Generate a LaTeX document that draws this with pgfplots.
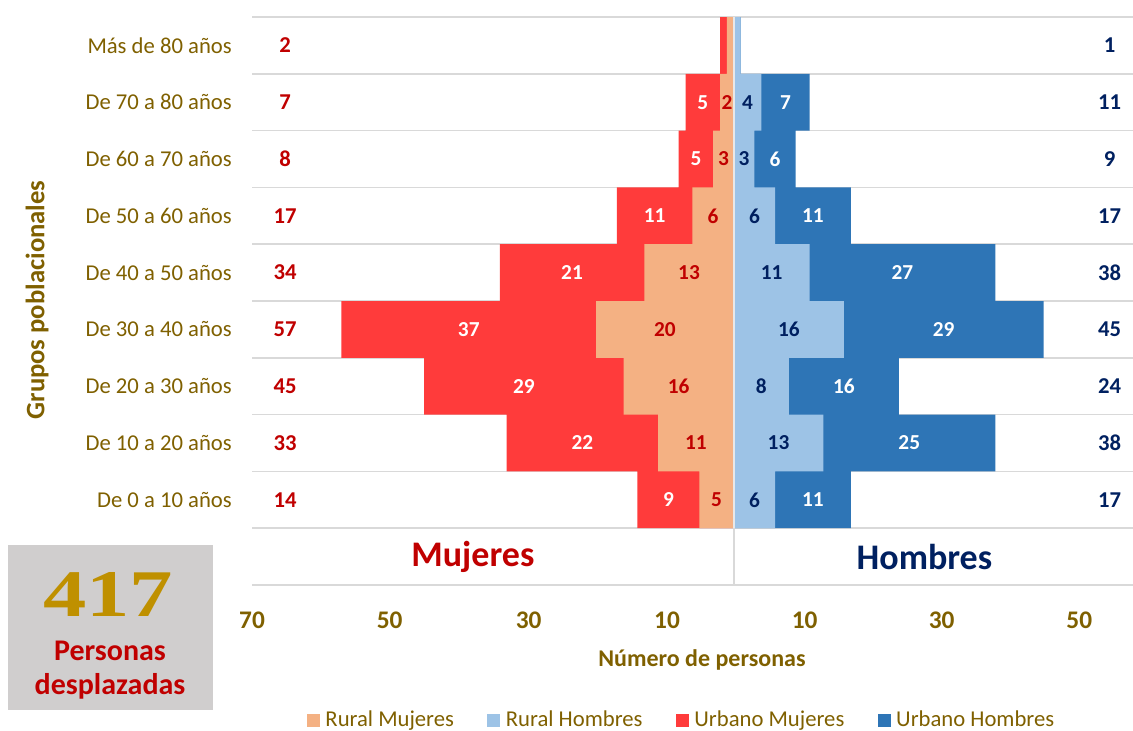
\documentclass[border=0pt]{standalone}
\usepackage{pgfplots}
\pgfplotsset{compat=1.18}
\usepackage{pgfplotstable}
\usepackage{fontspec}
\setmainfont{Carlito}
\newfontfamily\numfont{Liberation Serif}
\definecolor{ruralM}{HTML}{F4B183}
\definecolor{ruralH}{HTML}{9DC3E6}
\definecolor{urbM}{HTML}{FF3B3B}
\definecolor{urbH}{HTML}{2E75B6}
\definecolor{dred}{HTML}{C00000}
\definecolor{navy}{HTML}{002060}
\definecolor{olive}{HTML}{7F6000}
\definecolor{gold}{HTML}{BF9000}
\definecolor{boxgray}{HTML}{D0CECE}
\definecolor{gridgray}{HTML}{D9D9D9}

\pgfplotstableread{
y RM UM RH UH
1 5 9 6 11
2 11 22 13 25
3 16 29 8 16
4 20 37 16 29
5 13 21 11 27
6 6 11 6 11
7 3 5 3 6
8 2 5 4 7
9 1 1 1 0
}\datatable

\begin{document}
\begin{tikzpicture}
\useasboundingbox (0pt,0pt) rectangle (849.75pt,-548.25pt);
\begin{scope}[x=0.75pt,y=-0.75pt]
  \fill[boxgray] (8,545) rectangle (213,710);
  \node[text=gold, font=\numfont\bfseries\fontsize{50}{56}\selectfont] at (108,594) {\scalebox{1.3}[1]{417}};
  \node[text=dred, font=\bfseries\fontsize{22.5}{26}\selectfont] at (110,651) {Personas};
  \node[text=dred, font=\bfseries\fontsize{22.5}{26}\selectfont] at (110,686) {desplazadas};
  \node[rotate=90, text=olive, font=\bfseries\fontsize{20}{24}\selectfont] at (37,300) {Grupos poblacionales};
  \node[text=olive, font=\bfseries\fontsize{18}{22}\selectfont] at (702,660) {Número de personas};
\end{scope}
\begin{axis}[
  at={(189pt,-438.75pt)}, anchor=south west,
  scale only axis, width=660.75pt, height=426pt,
  xmin=-70, xmax=58, ymin=-0.5, ymax=9.5,
  enlargelimits=false, clip=false,
  axis line style={draw=none},
  major tick length=0pt, minor tick length=0pt,
  xtick={-70,-50,-29.8,-9.7,10.3,30.2,50.2},
  xticklabels={70,50,30,10,10,30,50},
  ytick={0,...,9},
  yticklabels={,De 0 a 10 años,De 10 a 20 años,De 20 a 30 años,De 30 a 40 años,De 40 a 50 años,De 50 a 60 años,De 60 a 70 años,De 70 a 80 años,Más de 80 años},
  minor ytick={-0.5,0.5,...,9.5},
  yminorgrids, minor grid style={gridgray, line width=1.3pt},
  yticklabel style={anchor=east, inner sep=0pt, xshift=-15pt, text=olive, font=\fontsize{17}{20}\selectfont},
  xticklabel style={anchor=center, inner sep=0pt, yshift=-26.25pt, text=olive, font=\bfseries\fontsize{19}{22}\selectfont},
  /pgf/number format/assume math mode=true,
  legend style={at={(axis description cs:0.488,-0.2377)}, anchor=center, draw=none, fill=none,
    legend columns=4, font=\fontsize{17}{20}\selectfont, text=olive,
    /tikz/every odd column/.append style={column sep=2.5pt},
    /tikz/every even column/.append style={column sep=23pt}},
]
% bars
\addplot[xbar, fill=urbM, draw=none, bar width=1, bar shift=0, forget plot]
  table[x expr={-(\thisrow{RM}+\thisrow{UM})}, y=y] {\datatable};
\addplot[xbar, fill=ruralM, draw=none, bar width=1, bar shift=0, forget plot]
  table[x expr={-\thisrow{RM}}, y=y] {\datatable};
\addplot[xbar, fill=urbH, draw=none, bar width=1, bar shift=0, forget plot]
  table[x expr={\thisrow{RH}+\thisrow{UH}}, y=y] {\datatable};
\addplot[xbar, fill=ruralH, draw=none, bar width=1, bar shift=0, forget plot]
  table[x expr={\thisrow{RH}}, y=y] {\datatable};
% centre line
\draw[gridgray!60, line width=1.5pt] (axis cs:0,-0.5) -- (axis cs:0,9.5);
\draw[gridgray, line width=1.5pt] (axis cs:0,-0.5) -- (axis cs:0,0.5);
% labels inside bars
\pgfplotsset{lbl/.style={only marks, mark=none, forget plot, point meta=explicit, nodes near coords,
  every node near coord/.append style={anchor=center, inner sep=0pt, font=\bfseries\fontsize{16}{19}\selectfont, text=#1}}}
\addplot[lbl=dred, skip coords between index={8}{9}]
  table[x expr={-\thisrow{RM}/2}, y=y, meta=RM] {\datatable};
\addplot[lbl=white, skip coords between index={8}{9}]
  table[x expr={-(\thisrow{RM}+\thisrow{UM}/2)}, y=y, meta=UM] {\datatable};
\addplot[lbl=navy, skip coords between index={8}{9}]
  table[x expr={\thisrow{RH}/2}, y=y, meta=RH] {\datatable};
\addplot[lbl=white, skip coords between index={8}{9}]
  table[x expr={\thisrow{RH}+\thisrow{UH}/2}, y=y, meta=UH] {\datatable};
% totals
\addplot[lbl=dred, every node near coord/.append style={font=\bfseries\fontsize{17}{20}\selectfont}]
  table[x expr={-65.2}, y=y, meta expr={\thisrow{RM}+\thisrow{UM}}] {\datatable};
\addplot[lbl=navy, every node near coord/.append style={font=\bfseries\fontsize{17}{20}\selectfont}]
  table[x expr={54.6}, y=y, meta expr={\thisrow{RH}+\thisrow{UH}}] {\datatable};
% Mujeres / Hombres
\node[text=dred, font=\bfseries\fontsize{27}{32}\selectfont] at (axis cs:-37.9,0) {Mujeres};
\node[text=navy, font=\bfseries\fontsize{27}{32}\selectfont] at (axis cs:27.7,0) {Hombres};
% legend
\addlegendimage{legend image code/.code={\fill[ruralM] (0pt,-4.5pt) rectangle (9pt,4.5pt);}}
\addlegendentry{Rural Mujeres}
\addlegendimage{legend image code/.code={\fill[ruralH] (0pt,-4.5pt) rectangle (9pt,4.5pt);}}
\addlegendentry{Rural Hombres}
\addlegendimage{legend image code/.code={\fill[urbM] (0pt,-4.5pt) rectangle (9pt,4.5pt);}}
\addlegendentry{Urbano Mujeres}
\addlegendimage{legend image code/.code={\fill[urbH] (0pt,-4.5pt) rectangle (9pt,4.5pt);}}
\addlegendentry{Urbano Hombres}
\end{axis}
\end{tikzpicture}
\end{document}
